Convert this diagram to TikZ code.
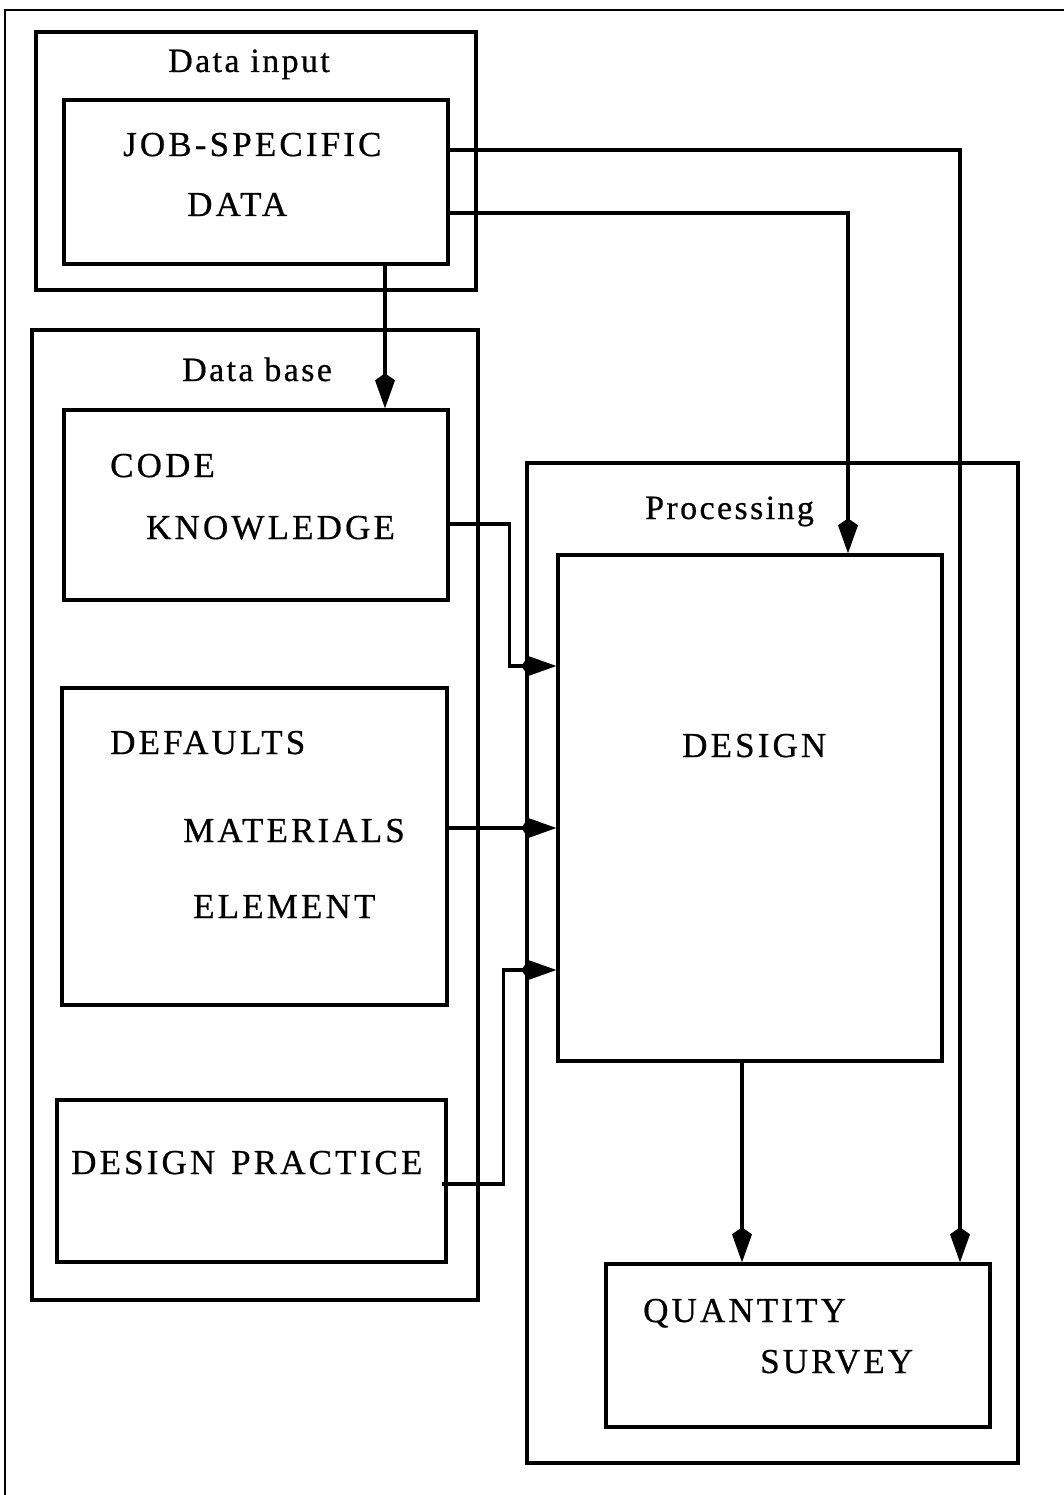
\documentclass[tikz,border=0pt]{standalone}
\usepackage{fontspec}
\setmainfont{Liberation Serif}
\newfontfamily\capsfont{Liberation Serif}[LetterSpace=9,FakeBold=0.6]
\newfontfamily\labelfont{Liberation Serif}[LetterSpace=7,FakeBold=0.6]
\usetikzlibrary{arrows.meta,fit}
\tikzset{
  frame/.style={draw, line width=3.4pt, inner sep=0pt, fit={#1}},
  caption/.style={anchor=base west, inner sep=0pt, font=\labelfont\fontsize{34}{38}\selectfont},
  entry/.style={anchor=base west, inner sep=0pt, font=\capsfont\fontsize{35}{40}\selectfont},
  flow/.style={line width=3.2pt, -{Kite[length=35pt,width=20pt,inset=7pt]}},
}
\begin{document}
\begin{tikzpicture}[x=1pt, y=-1pt]
\useasboundingbox (0,0) rectangle (1064,1495);
% page frame (top and left rules)
\draw[line width=2.6pt] (5,1495) -- (5,10) -- (1064,10);

% group frames
\node[frame={(36,32) (476,290)}] (inbox) {};
\node[frame={(32,330) (478,1300)}] (dbbox) {};
\node[frame={(527,463) (1018,1463)}] (procbox) {};

% inner boxes
\node[frame={(64,100) (448,264)}] (job) {};
\node[frame={(64,410) (448,600)}] (code) {};
\node[frame={(62,688) (447,1005)}] (dflt) {};
\node[frame={(57,1100) (446,1262)}] (prac) {};
\node[frame={(558,555) (942,1061)}] (design) {};
\node[frame={(606,1264) (990,1427)}] (qs) {};

% group captions
\node[caption] (tin) at (168,72) {Data input};
\node[caption] (tdb) at (182,381) {Data base};
\node[caption] (tproc) at (645,519) {Processing};

% box texts
\node[entry] (t1) at (123,156) {JOB-SPECIFIC};
\node[entry] (t2) at (187,216) {DATA};
\node[entry] (t3) at (110,477) {CODE};
\node[entry] (t4) at (146,539) {KNOWLEDGE};
\node[entry] (t5) at (110,754) {DEFAULTS};
\node[entry] (t6) at (183,842) {MATERIALS};
\node[entry] (t7) at (193,918) {ELEMENT};
\node[entry] (t8) at (71,1174) {DESIGN \hspace{4pt}PRACTICE};
\node[entry] (t9) at (682,757) {DESIGN};
\node[entry] (t10) at (643,1322) {QUANTITY};
\node[entry] (t11) at (760,1373) {SURVEY};

% connectors
\draw[flow] ([xshift=129pt]job.south) -- ([xshift=129pt]code.north);
\draw[flow] ([yshift=32pt]job.east) -| ([xshift=162pt]qs.north);
\draw[flow] ([yshift=-31pt]job.east) -| ([xshift=98pt]design.north);
\draw[flow] ([yshift=-19pt]code.east) -- ++(60,0) |- ([yshift=142pt]design.west);
\draw[flow] ([yshift=18.5pt]dflt.east) -- ([yshift=-20pt]design.west);
\draw[flow] ([xshift=-6pt,yshift=-3pt]prac.east) -- ++(62,0) |- ([yshift=-162pt]design.west);
\draw[flow] ([xshift=-8pt]design.south) -- ([xshift=-56pt]qs.north);
\end{tikzpicture}
\end{document}
